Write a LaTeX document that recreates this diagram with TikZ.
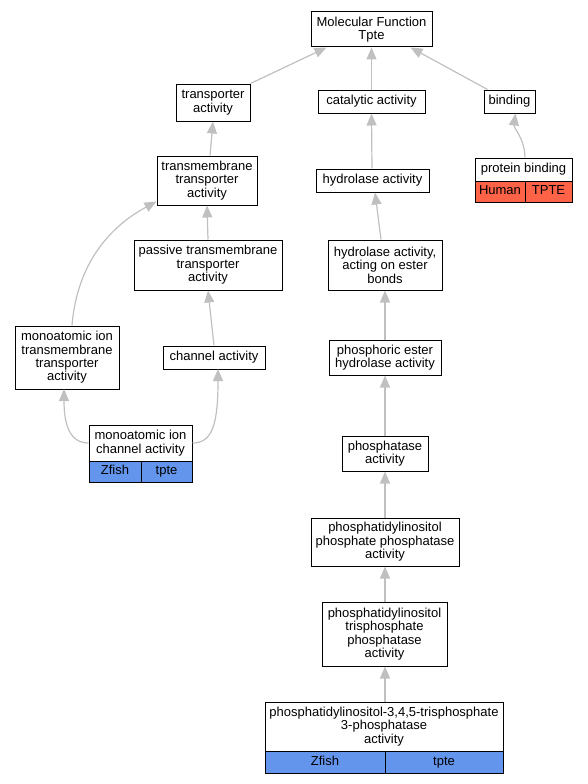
\documentclass[tikz,border=0pt]{standalone}
\usepackage{fontspec}
\setmainfont{Liberation Sans}
\usetikzlibrary{arrows.meta,calc}
\definecolor{edgegray}{HTML}{C0C0C0}
\definecolor{zblue}{HTML}{6495ED}
\definecolor{hred}{HTML}{FF6347}
\tikzset{
  gobox/.style={draw=black, line width=1pt, fill=white, inner sep=0.5pt, align=center,
    font=\fontsize{13}{13.4}\selectfont},
  cellbox/.style={gobox, text height=9.4pt, text depth=2.7pt},
  onebox/.style={gobox, text height=9.4pt, text depth=2.7pt},
  edge/.style={draw=edgegray, line width=1.2pt, -{Triangle[width=10pt,length=12pt,fill=edgegray]}},
}
\begin{document}
\begin{tikzpicture}[x=1pt,y=-1pt]
\useasboundingbox (0,0) rectangle (587,784);
% nodes
\node[gobox, minimum width=121, minimum height=35] (mf) at (371.5,29.5) {Molecular Function\\Tpte};
\node[gobox, minimum width=74, minimum height=37] (tra) at (213,102.5) {transporter\\activity};
\node[onebox, minimum width=107, minimum height=23] (cat) at (371.5,101.5) {catalytic activity};
\node[onebox, minimum width=51, minimum height=23] (bin) at (509.5,101.5) {binding};
\node[gobox, minimum width=100, minimum height=49] (tmt) at (207,180.5) {transmembrane\\transporter\\activity};
\node[onebox, minimum width=113, minimum height=23] (hyd) at (372.5,180.5) {hydrolase activity};
\node[onebox, minimum width=97, minimum height=23] (pb) at (523.5,169.5) {protein binding};
\node[cellbox, fill=hred, minimum width=50, minimum height=21] (pbh) at (500,191.5) {Human};
\node[cellbox, fill=hred, minimum width=47, minimum height=21] (pbt) at (548.5,191.5) {TPTE};
\node[gobox, minimum width=148, minimum height=50] (pas) at (208,265) {passive transmembrane\\transporter\\activity};
\node[gobox, minimum width=114, minimum height=50] (hae) at (385,265) {hydrolase activity,\\acting on ester\\bonds};
\node[gobox, minimum width=104, minimum height=63] (mitt) at (67,357.5) {monoatomic ion\\transmembrane\\transporter\\activity};
\node[onebox, minimum width=102, minimum height=23] (cha) at (214,357.5) {channel activity};
\node[gobox, minimum width=112, minimum height=35] (peh) at (385,357.5) {phosphoric ester\\hydrolase activity};
\node[gobox, minimum width=103, minimum height=36] (mic) at (140.5,443) {monoatomic ion\\channel activity};
\node[cellbox, fill=zblue, minimum width=52, minimum height=21] (micz) at (115,471.5) {Zfish};
\node[cellbox, fill=zblue, minimum width=51, minimum height=21] (mict) at (166.5,471.5) {tpte};
\node[gobox, minimum width=86, minimum height=35] (pha) at (385,453.5) {phosphatase\\activity};
\node[gobox, minimum width=148, minimum height=48] (pipp) at (385,542) {phosphatidylinositol\\phosphate phosphatase\\activity};
\node[gobox, minimum width=125, minimum height=64] (pitp) at (384.5,634) {phosphatidylinositol\\trisphosphate\\phosphatase\\activity};
\node[gobox, minimum width=238, minimum height=49] (bot) at (384,726.5) {phosphatidylinositol-3,4,5-trisphosphate\\3-phosphatase\\activity};
\node[cellbox, fill=zblue, minimum width=120, minimum height=22] (botz) at (325,762) {Zfish};
\node[cellbox, fill=zblue, minimum width=118, minimum height=22] (bott) at (444,762) {tpte};
% edges
\draw[edge] (tra.north east) -- ($(mf.south west)+(16,0)$);
\draw[edge] (cat.north) -- (cat.north |- mf.south);
\draw[edge] ($(bin.north west)+(4,0)$) -- ($(mf.south east)+(-22,0)$);
\draw[edge] ($(tmt.north)+(3,0)$) -- ($(tra.south)+(0,0)$);
\draw[edge] ($(hyd.north)+(-0.5,0)$) -- (cat.south);
\draw[edge] ($(pb.north)+(1.5,0)$) .. controls ($(pb.north)+(1,-20)$) and ($(bin.south)+(4,15)$) .. ($(bin.south)+(6,0)$);
\draw[edge] (pas.north) -- (tmt.south);
\draw[edge] ($(mitt.north)+(5,0)$) .. controls (76,275) and (100,232) .. ($(tmt.south west)+(0,-4)$);
\draw[edge] (cha.north) -- ($(pas.south)+(0,0)$);
\draw[edge] ($(hae.north)+(-4,0)$) -- ($(hyd.south)+(2.5,0)$);
\draw[edge] (peh.north) -- (hae.south);
\draw[edge] (pha.north) -- (peh.south);
\draw[edge] (pipp.north) -- (pha.south);
\draw[edge] (pitp.north -| pipp.north) -- (pipp.south);
\draw[edge] (bot.north -| pipp.north) -- (pitp.south -| pipp.north);
\draw[edge] ($(mic.west)+(0,0)$) .. controls (70,443) and (64,425) .. (64,389);
\draw[edge] ($(mic.east)+(0,0)$) .. controls (212,443) and (218,425) .. (218,369);
\end{tikzpicture}
\end{document}
